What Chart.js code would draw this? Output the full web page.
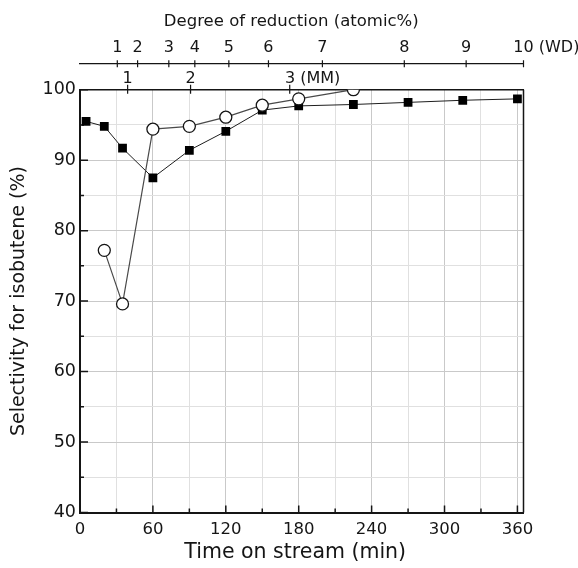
<!DOCTYPE html>
<html>
<head>
<meta charset="utf-8">
<script src="https://cdn.jsdelivr.net/npm/chart.js@4.4.1/dist/chart.umd.min.js"></script>
<style>
  html, body { margin: 0; padding: 0; background: #fff; }
</style>
</head>
<body>
<canvas id="myChart" width="578" height="568"></canvas>
<script>
// time on stream (min) and selectivity (%)
const squareTimes = [5, 20, 35, 60, 90, 120, 150, 180, 225, 270, 315, 360];
const squareValues = [95.5, 94.8, 91.7, 87.5, 91.4, 94.1, 97.1, 97.7, 97.9, 98.2, 98.5, 98.7];
const circleTimes = [20, 35, 60, 90, 120, 150, 180, 225];
const circleValues = [77.2, 69.6, 94.4, 94.8, 96.1, 97.8, 98.7, 100.0];

// upper axes: degree of reduction, placed on the time axis
const wdLabels = ['1', '2', '3', '4', '5', '6', '7', '8', '9', '10 (WD)'];
const wdTimes = [30.7, 47.4, 73.1, 94.5, 122.5, 155.1, 199.5, 266.9, 317.8, 365];
const mmLabels = ['1', '2', '3 (MM)'];
const mmTimes = [39.2, 91, 172.6];

const FONT = "'DejaVu Sans', Verdana, sans-serif";
const INK = '#151515';

// centre the number on its tick, let the unit hang to the right
function hang(label) {
    const parts = label.split(/(\s+.*)/);
    if (parts.length < 2) return label;
    return ' '.repeat(Math.round(parts[1].length * 1.8)) + label;
}

// fixed band heights, no automatic side padding
function band(h) {
    return s => { s.height = h; s.paddingLeft = 0; s.paddingRight = 0; };
}

const axisMarks = {
    id: 'axisMarks',
    beforeDatasetsDraw(chart) {
        const {ctx, chartArea: a, scales} = chart;
        ctx.save();
        ctx.strokeStyle = INK;

        // right side of the frame
        ctx.lineWidth = 1.5;
        ctx.beginPath();
        ctx.moveTo(a.right, a.top);
        ctx.lineTo(a.right, a.bottom);
        ctx.stroke();

        // inward ticks, bottom and left
        ctx.lineWidth = 1.5;
        ctx.beginPath();
        scales.x.ticks.forEach(t => {
            const px = scales.x.getPixelForValue(t.value);
            const len = t.value % 60 === 0 ? 7 : 4;
            ctx.moveTo(px, a.bottom);
            ctx.lineTo(px, a.bottom - len);
        });
        scales.y.ticks.forEach(t => {
            const py = scales.y.getPixelForValue(t.value);
            const len = t.value % 10 === 0 ? 8 : 4;
            ctx.moveTo(a.left, py);
            ctx.lineTo(a.left + len, py);
        });
        ctx.stroke();

        // WD ticks cross their line
        ctx.lineWidth = 1.2;
        ctx.beginPath();
        scales.wd.ticks.forEach(t => {
            const px = scales.wd.getPixelForValue(t.value);
            ctx.moveTo(px, scales.wd.bottom - 3.5);
            ctx.lineTo(px, scales.wd.bottom + 3.5);
        });
        // MM ticks cross the top of the frame
        scales.mm.ticks.forEach(t => {
            const px = scales.mm.getPixelForValue(t.value);
            ctx.moveTo(px, a.top - 5);
            ctx.lineTo(px, a.top + 4);
        });
        ctx.stroke();
        ctx.restore();
    }
};

const ctx = document.getElementById('myChart');

const config = {
    type: 'line',
    data: {
        datasets: [
            {
                label: 'MM',
                data: circleTimes.map((t, i) => ({x: t, y: circleValues[i]})),
                borderColor: '#4a4a4a',
                borderWidth: 1.2,
                pointStyle: 'circle',
                pointRadius: 6,
                pointBackgroundColor: '#fff',
                pointBorderColor: INK,
                pointBorderWidth: 1.3,
                tension: 0,
            },
            {
                label: 'WD',
                data: squareTimes.map((t, i) => ({x: t, y: squareValues[i]})),
                borderColor: '#1e1e1e',
                borderWidth: 1,
                pointStyle: 'rect',
                pointRadius: 6.2,
                pointBackgroundColor: '#000',
                pointBorderColor: '#000',
                pointBorderWidth: 0,
                tension: 0,
            }
        ]
    },
    options: {
        responsive: false,
        animation: false,
        layout: { padding: { left: 0, right: 54.5, top: 0, bottom: 0 } },
        plugins: {
            legend: { display: false },
            tooltip: { enabled: false },
        },
        scales: {
            x: {
                type: 'linear',
                position: 'bottom',
                min: 0,
                max: 365,
                afterFit: band(55.5),
                ticks: {
                    stepSize: 30,
                    includeBounds: false,
                    autoSkip: false,
                    maxRotation: 0,
                    padding: 7,
                    color: INK,
                    font: { family: FONT, size: 16.5 },
                    callback: v => (v % 60 === 0 ? v : ''),
                },
                grid: {
                    drawTicks: false,
                    color: c => (c.tick && c.tick.value % 60 === 0 ? '#c9c9c9' : '#e0e0e0'),
                },
                border: { color: INK, width: 2 },
                title: {
                    display: true,
                    text: 'Time on stream (min)  ',
                    color: INK,
                    font: { family: FONT, size: 20.5 },
                    padding: { top: 0, bottom: 3 },
                },
            },
            y: {
                type: 'linear',
                position: 'left',
                min: 40,
                max: 100,
                afterFit: s => { s.width = 80; },
                ticks: {
                    stepSize: 5,
                    padding: 4,
                    color: INK,
                    font: { family: FONT, size: 17.5 },
                    callback: v => (v % 10 === 0 ? v : ''),
                },
                grid: {
                    drawTicks: false,
                    color: c => (c.tick && c.tick.value % 10 === 0 ? '#c9c9c9' : '#e0e0e0'),
                },
                border: { color: INK, width: 2 },
                title: {
                    display: true,
                    text: 'Selectivity for isobutene (%)',
                    color: INK,
                    font: { family: FONT, size: 19 },
                    padding: { top: 8, bottom: 0 },
                },
            },
            mm: {
                type: 'linear',
                position: 'top',
                min: 0,
                max: 365,
                afterBuildTicks: s => { s.ticks = mmTimes.map(v => ({value: v})); },
                afterFit: band(26),
                ticks: {
                    autoSkip: false,
                    maxRotation: 0,
                    padding: 1,
                    color: INK,
                    font: { family: FONT, size: 16 },
                    callback: (v, i) => hang(mmLabels[i]),
                },
                grid: { display: false, drawTicks: false },
                border: { color: INK, width: 1.5 },
            },
            wd: {
                type: 'linear',
                position: 'top',
                min: 0,
                max: 365,
                afterBuildTicks: s => { s.ticks = wdTimes.map(v => ({value: v})); },
                afterFit: band(63.7),
                ticks: {
                    autoSkip: false,
                    maxRotation: 0,
                    padding: 6,
                    color: INK,
                    font: { family: FONT, size: 16 },
                    callback: (v, i) => hang(wdLabels[i]),
                },
                grid: { display: false, drawTicks: false },
                border: { color: INK, width: 1.2 },
                title: {
                    display: true,
                    text: 'Degree of reduction (atomic%)    ',
                    color: INK,
                    font: { family: FONT, size: 16.5 },
                    padding: { top: 12, bottom: 0 },
                },
            },
        },
    },
    plugins: [axisMarks],
};

const myChart = new Chart(ctx, config);
</script>
</body>
</html>
